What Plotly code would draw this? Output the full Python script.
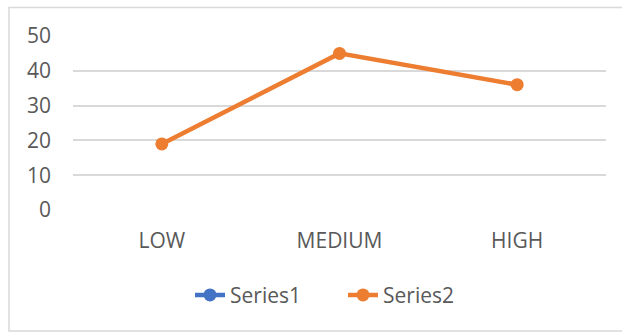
import plotly.graph_objects as go

# Chart data
categories = ["LOW", "MEDIUM", "HIGH"]
series1 = [None, None, None]
series2 = [19, 45, 36]
y_ticks = [0, 10, 20, 30, 40, 50]

BLUE = "#4472C4"
ORANGE = "#ED7D31"
TEXT = "#595959"
GRID = "#D9D9D9"
FONT = "Open Sans, Liberation Sans, sans-serif"
FS = 21

fig = go.Figure()
fig.add_trace(go.Scatter(
    x=categories, y=series1, name="Series1", mode="lines+markers",
    line=dict(color=BLUE, width=4.5), marker=dict(color=BLUE, size=13),
))
fig.add_trace(go.Scatter(
    x=categories, y=series2, name="Series2", mode="lines+markers",
    line=dict(color=ORANGE, width=4.5), marker=dict(color=ORANGE, size=13),
))

# Outer chart border
fig.add_shape(
    type="rect", xref="paper", yref="paper",
    x0=(9 - 73) / 533, x1=(640 - 73) / 533,
    y0=(210 - 331) / 174, y1=(210 - 7.5) / 174,
    line=dict(color=GRID, width=1.5), fillcolor="rgba(0,0,0,0)", layer="below",
)

fig.update_layout(
    width=622, height=334,
    margin=dict(l=73, r=16, t=36, b=124),
    paper_bgcolor="white", plot_bgcolor="white",
    font=dict(family=FONT, size=FS, color=TEXT),
    showlegend=True,
    legend=dict(
        orientation="h", x=(190 - 73) / 533, xanchor="left", y=-0.49, yanchor="middle",
        font=dict(size=FS, color=TEXT), entrywidth=108, entrywidthmode="pixels",
        tracegroupgap=0,
    ),
    xaxis=dict(
        type="category", range=[-0.5, 2.5], showgrid=False, zeroline=False, showline=False,
        ticks="", tickfont=dict(size=FS, color=TEXT), ticklabelstandoff=16,
    ),
    yaxis=dict(
        range=[0, 50], tickvals=y_ticks, showgrid=True, gridcolor=GRID, gridwidth=1.5,
        zeroline=False, showline=False, ticks="", ticklabelstandoff=21,
        tickfont=dict(size=FS, color=TEXT),
    ),
)

fig.write_html("out.html")
